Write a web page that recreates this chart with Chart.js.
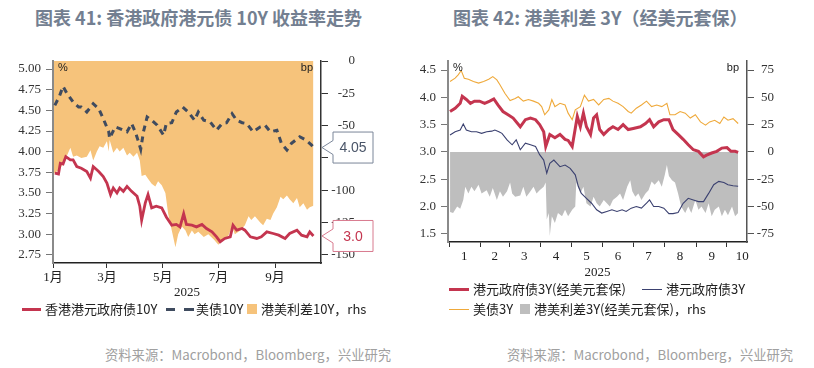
<!DOCTYPE html>
<html><head><meta charset="utf-8">
<script src="https://cdn.jsdelivr.net/npm/chart.js@4.4.0/dist/chart.umd.min.js"></script>
<style>
body{margin:0;width:814px;height:368px;background:#fff;position:relative;overflow:hidden;font-family:"Noto Sans CJK SC",sans-serif;}
.abs{position:absolute;white-space:nowrap;}
.title{font-size:18px;font-weight:bold;color:#737f91;line-height:22px;top:6px;}
.leg{font-size:13px;color:#222;line-height:18px;}
.src{font-size:13.3px;color:#a0a0a0;line-height:20px;top:345px;}
canvas{position:absolute;top:0;}
</style></head>
<body>
<div class="abs title" style="left:35px">图表 41: 香港政府港元债 10Y 收益率走势</div>
<div class="abs title" style="left:453px">图表 42: 港美利差 3Y（经美元套保）</div>
<canvas id="c1" width="410" height="300" style="left:0px"></canvas>
<canvas id="c2" width="410" height="280" style="left:404px"></canvas>

<!-- legend chart 1 -->
<div class="abs" style="left:22px;top:308px;width:19px;height:3px;background:#c4354f"></div>
<div class="abs leg" style="left:45px;top:300px">香港港元政府债10Y</div>
<div class="abs" style="left:166px;top:308px;width:9px;height:3px;background:#3f4b5f"></div>
<div class="abs" style="left:184px;top:308px;width:10px;height:3px;background:#3f4b5f"></div>
<div class="abs leg" style="left:196px;top:300px">美债10Y</div>
<div class="abs" style="left:247px;top:304px;width:10px;height:10px;background:#f6c37b"></div>
<div class="abs leg" style="left:261px;top:300px">港美利差10Y，rhs</div>

<!-- legend chart 2 -->
<div class="abs" style="left:449px;top:288px;width:20px;height:3px;background:#c4354f"></div>
<div class="abs leg" style="left:473px;top:280px">港元政府债3Y(经美元套保)</div>
<div class="abs" style="left:642px;top:289px;width:20px;height:1px;background:#3b4170"></div>
<div class="abs leg" style="left:666px;top:280px">港元政府债3Y</div>
<div class="abs" style="left:449px;top:309px;width:20px;height:1px;background:#efa93a"></div>
<div class="abs leg" style="left:473px;top:300px">美债3Y</div>
<div class="abs" style="left:520px;top:304px;width:10px;height:10px;background:#bebebe"></div>
<div class="abs leg" style="left:534px;top:300px">港美利差3Y(经美元套保)，rhs</div>

<div class="abs src" style="left:105px">资料来源：Macrobond，Bloomberg，兴业研究</div>
<div class="abs src" style="left:507px">资料来源：Macrobond，Bloomberg，兴业研究</div>

<script>
// ===== Chart 41 data (x = day of 2025, 0 = 1 Jan) =====
const hk10yDays = [2,6,8,11,14,19,22,26,31,37,41,44,50,55,59,63,66,70,73,77,81,86,92,95,97,101,104,108,113,119,124,130,135,139,143,146,152,157,163,168,174,179,183,188,194,197,201,207,210,216,223,228,234,241,247,254,259,267,272,278,281,285];
const hk10yVals = [3.74,3.73,3.86,3.85,3.94,3.90,3.90,3.82,3.80,3.76,3.68,3.82,3.76,3.70,3.62,3.48,3.56,3.50,3.56,3.52,3.58,3.52,3.46,3.34,3.17,3.38,3.48,3.32,3.34,3.32,3.21,3.11,3.12,3.09,3.25,3.12,3.11,3.09,3.12,3.07,3.03,2.97,2.91,2.95,2.97,3.11,3.05,3.07,3.05,2.97,2.95,2.97,3.03,3.01,2.99,2.95,3.01,3.05,2.99,2.97,3.03,2.98];
const us10yDays = [2,7,11,15,22,28,31,37,44,50,55,61,62,68,73,81,86,90,93,96,99,103,108,114,121,124,130,135,142,148,155,159,165,172,179,185,190,196,201,207,212,219,227,232,238,245,250,256,261,270,277,283,285];
const us10yVals = [4.56,4.67,4.79,4.71,4.60,4.54,4.54,4.48,4.58,4.52,4.40,4.24,4.16,4.30,4.28,4.24,4.34,4.24,4.14,4.03,4.24,4.42,4.38,4.32,4.20,4.34,4.35,4.48,4.54,4.48,4.38,4.48,4.38,4.36,4.26,4.34,4.35,4.46,4.38,4.35,4.34,4.24,4.30,4.32,4.24,4.26,4.10,4.02,4.10,4.18,4.14,4.08,4.05];
const spread10yDays = [1,7,13,19,22,26,31,37,41,44,48,51,55,59,61,62,66,70,73,77,81,84,88,92,95,97,101,104,108,112,115,119,123,126,130,134,137,141,145,148,152,155,159,165,170,176,181,186,192,196,199,205,210,214,217,221,227,230,234,238,241,245,249,252,256,259,263,267,270,274,278,281,285];
const spread10yVals = [-87,-84,-77,-67,-74,-73,-75,-74,-69,-77,-70,-66,-67,-62,-70,-61,-71,-67,-70,-67,-73,-71,-74,-71,-77,-89,-88,-91,-95,-97,-93,-96,-102,-118,-131,-144,-134,-128,-131,-136,-131,-134,-132,-136,-134,-138,-142,-138,-135,-128,-134,-131,-127,-120,-123,-120,-125,-127,-122,-123,-118,-113,-105,-107,-104,-107,-110,-106,-113,-110,-115,-113,-112];
const c1TickDays = [0,59,120,181,243];
const c1TickLabels = ['1月','3月','5月','7月','9月'];
const c1LeftTicks = [2.75,3.00,3.25,3.50,3.75,4.00,4.25,4.50,4.75,5.00];
const c1RightTicks = [-150,-125,-100,-75,-50,-25,0];

// ===== Chart 42 data =====
const us3yDays = [1,6,9,12,15,19,24,29,34,39,43,47,50,55,60,65,68,73,78,83,88,91,94,98,101,104,109,114,117,121,124,129,133,137,142,147,152,157,161,166,171,176,179,184,189,194,199,204,209,214,217,222,227,232,237,242,247,252,256,261,266,270,274,279,284];
const us3yVals = [4.29,4.35,4.41,4.49,4.35,4.33,4.29,4.26,4.29,4.33,4.38,4.32,4.23,4.07,3.94,3.98,4.01,3.93,3.96,3.93,3.89,3.83,3.68,3.77,3.96,3.83,3.89,3.86,3.71,3.59,3.77,3.83,4.04,3.93,3.96,3.86,3.96,3.98,3.93,3.89,3.83,3.74,3.71,3.80,3.86,3.93,3.83,3.86,3.83,3.89,3.68,3.68,3.74,3.71,3.62,3.68,3.55,3.49,3.55,3.58,3.52,3.64,3.58,3.61,3.52];
const hk3yHedgedDays = [1,6,11,13,17,21,25,30,35,40,44,48,53,58,63,70,75,80,85,89,93,95,99,104,109,114,117,121,124,126,129,132,135,139,142,145,148,152,157,161,166,171,176,181,188,193,197,201,206,211,216,220,225,230,235,240,245,250,253,258,263,268,273,277,281,284];
const hk3yHedgedVals = [3.74,3.80,3.89,4.02,3.96,3.89,3.93,3.93,3.89,3.93,3.97,3.86,3.74,3.68,3.62,3.46,3.59,3.62,3.59,3.50,3.37,3.10,3.32,3.26,3.32,3.23,3.21,3.10,3.43,3.65,3.46,3.71,3.46,3.32,3.62,3.68,3.41,3.32,3.41,3.46,3.41,3.50,3.41,3.43,3.46,3.52,3.59,3.46,3.55,3.59,3.59,3.41,3.32,3.23,3.13,3.04,3.01,2.91,2.94,2.98,3.01,3.07,3.08,3.01,3.01,2.99];
const hk3yDays = [1,6,11,14,17,22,27,32,37,42,45,49,52,57,62,66,70,75,80,85,89,93,96,99,103,106,109,114,119,124,127,130,135,140,145,150,155,160,165,170,174,179,184,189,194,197,201,206,211,216,220,225,230,235,240,245,250,255,260,265,270,274,279,284];
const hk3yVals = [3.31,3.37,3.40,3.51,3.40,3.37,3.37,3.34,3.37,3.38,3.40,3.37,3.34,3.22,3.13,3.22,3.04,3.16,3.13,3.10,2.95,2.85,2.61,2.79,2.85,2.79,2.73,2.76,2.70,2.58,2.37,2.24,2.15,2.06,1.94,1.88,1.91,1.94,1.91,1.94,1.91,1.97,2.00,1.97,2.06,2.12,2.00,2.00,1.97,1.87,1.87,1.89,2.06,2.15,2.12,2.09,2.09,2.24,2.40,2.46,2.44,2.40,2.38,2.37];
const spread3yDays = [1,4,8,11,14,16,19,22,25,29,32,37,40,43,47,50,53,57,60,62,65,70,73,76,80,83,86,89,93,95,96,98,99,101,104,107,111,114,117,121,124,125,129,132,135,139,142,145,148,152,155,158,161,165,168,171,175,178,180,183,186,189,193,196,199,202,206,209,212,214,216,219,222,225,228,232,235,238,242,245,248,252,255,258,261,265,268,271,274,278,281,284];
const spread3yVals = [-55,-56,-50,-52,-44,-32,-38,-32,-36,-30,-38,-35,-41,-33,-44,-36,-41,-36,-28,-38,-41,-40,-32,-41,-36,-32,-38,-35,-32,-28,-62,-56,-77,-59,-65,-56,-59,-53,-59,-53,-50,-28,-38,-32,-47,-50,-41,-47,-50,-44,-47,-50,-44,-41,-38,-44,-32,-26,-36,-41,-38,-44,-38,-35,-27,-30,-26,-32,-21,-12,-22,-26,-28,-38,-50,-56,-50,-56,-44,-53,-50,-56,-47,-59,-53,-50,-59,-53,-58,-50,-59,-56];
const c2MonthStarts = [0,31,59,90,120,151,181,212,243,273];
const c2MidMonths = [15,45,74,105,135,166,196,227,258,288];
const c2MidLabels = ['1','2','3','4','5','6','7','8','9','10'];
const c2LeftTicks = [1.5,2.0,2.5,3.0,3.5,4.0,4.5];
const c2RightTicks = [-75,-50,-25,0,25,50,75];

const pts = (xs, ys) => xs.map((x, i) => ({x: x, y: ys[i]}));
const serif = '"Liberation Serif","Noto Sans CJK SC",serif';

const unitPlugin = {
  id: 'units',
  afterDraw(chart) {
    const {ctx, chartArea: a} = chart;
    ctx.save();
    ctx.fillStyle = '#222';
    ctx.font = '11px "Liberation Sans",sans-serif';
    ctx.textBaseline = 'middle';
    ctx.textAlign = 'left';
    ctx.fillText('%', a.left + 5, a.top + 7);
    ctx.textAlign = 'right';
    ctx.fillText('bp', a.right - 8, a.top + 7);
    ctx.restore();
  }
};

function drawCallout(ctx, a, yPix, text, border, color) {
  const x0 = a.right + 1, bx = a.right + 12, bw = 40, bh = 31, top = yPix - bh / 2;
  ctx.save();
  ctx.beginPath();
  ctx.moveTo(bx, top); ctx.lineTo(bx + bw, top); ctx.lineTo(bx + bw, top + bh); ctx.lineTo(bx, top + bh);
  ctx.lineTo(bx, yPix + 7); ctx.lineTo(x0, yPix); ctx.lineTo(bx, yPix - 7); ctx.closePath();
  ctx.fillStyle = '#fff'; ctx.fill();
  ctx.strokeStyle = border; ctx.lineWidth = 1; ctx.stroke();
  ctx.fillStyle = color; ctx.font = '14px "Liberation Sans",sans-serif';
  ctx.textAlign = 'center'; ctx.textBaseline = 'middle';
  ctx.fillText(text, bx + bw / 2, yPix + 1);
  ctx.restore();
}

const calloutPlugin = {
  id: 'callouts',
  afterDraw(chart) {
    const y = chart.scales.y, a = chart.chartArea, ctx = chart.ctx;
    const us = us10yVals[us10yVals.length - 1];
    const hk = hk10yVals[hk10yVals.length - 1];
    drawCallout(ctx, a, y.getPixelForValue(us), us.toFixed(2), '#7a8699', '#4a5568');
    drawCallout(ctx, a, y.getPixelForValue(hk), hk.toFixed(1), '#d87a8e', '#c4354f');
  }
};

new Chart(document.getElementById('c1'), {
  type: 'line',
  data: {
    datasets: [
      {label: '香港港元政府债10Y', data: pts(hk10yDays, hk10yVals), yAxisID: 'y', borderColor: '#c4354f', borderWidth: 2.8, pointRadius: 0, tension: 0, fill: false},
      {label: '美债10Y', data: pts(us10yDays, us10yVals), yAxisID: 'y', borderColor: '#3f4b5f', borderWidth: 3, borderDash: [6, 5], pointRadius: 0, tension: 0, fill: false},
      {label: '港美利差10Y，rhs', data: pts(spread10yDays, spread10yVals), yAxisID: 'y2', borderColor: 'transparent', borderWidth: 0.01, backgroundColor: '#f6c37b', pointRadius: 0, tension: 0, fill: 'origin'}
    ]
  },
  options: {
    responsive: false, animation: false, events: [],
    layout: {padding: {top: 61, left: 0, right: 55, bottom: 0}},
    plugins: {legend: {display: false}, tooltip: {enabled: false}},
    scales: {
      x: {
        type: 'linear', position: 'bottom', min: 0, max: 293.3,
        afterBuildTicks: s => { s.ticks = c1TickDays.map(v => ({value: v})); },
        afterFit: s => { s.height = 37; },
        ticks: {autoSkip: false, maxRotation: 0, padding: 2, color: '#222', font: {family: serif, size: 13},
          callback: v => { const i = c1TickDays.indexOf(v); return i >= 0 ? c1TickLabels[i] : ''; }},
        grid: {drawOnChartArea: false, drawTicks: true, tickLength: 5, tickColor: '#333'},
        border: {color: '#222', width: 1.5},
        title: {display: true, text: '2025', color: '#222', font: {family: serif, size: 13}, padding: {top: 0, bottom: 0}}
      },
      y: {
        type: 'linear', position: 'left', min: 2.653, max: 5.097,
        afterBuildTicks: s => { s.ticks = c1LeftTicks.map(v => ({value: v})); },
        afterFit: s => { s.width = 53; },
        ticks: {padding: 5, color: '#333', font: {family: serif, size: 13}, callback: v => v.toFixed(2)},
        grid: {drawOnChartArea: false, drawTicks: true, tickLength: 7, tickColor: '#777'},
        border: {color: '#8a8a8a', width: 2}
      },
      y2: {
        type: 'linear', position: 'right', min: -156.2, max: 0,
        afterBuildTicks: s => { s.ticks = c1RightTicks.map(v => ({value: v})); },
        afterFit: s => { s.width = 34; },
        ticks: {padding: 5, crossAlign: 'far', color: '#333', font: {family: serif, size: 13}, callback: v => String(v)},
        grid: {drawOnChartArea: false, drawTicks: true, tickLength: 7, tickColor: '#333'},
        border: {color: '#333', width: 1.5}
      }
    }
  },
  plugins: [unitPlugin, calloutPlugin]
});

const c2AllTicks = c2MonthStarts.concat(c2MidMonths).sort((a, b) => a - b);

new Chart(document.getElementById('c2'), {
  type: 'line',
  data: {
    datasets: [
      {label: '港元政府债3Y(经美元套保)', data: pts(hk3yHedgedDays, hk3yHedgedVals), yAxisID: 'y', borderColor: '#c4354f', borderWidth: 3, pointRadius: 0, tension: 0, fill: false},
      {label: '港元政府债3Y', data: pts(hk3yDays, hk3yVals), yAxisID: 'y', borderColor: '#3b4170', borderWidth: 1.1, pointRadius: 0, tension: 0, fill: false},
      {label: '美债3Y', data: pts(us3yDays, us3yVals), yAxisID: 'y', borderColor: '#efa93a', borderWidth: 1.1, pointRadius: 0, tension: 0, fill: false},
      {label: '港美利差3Y(经美元套保)，rhs', data: pts(spread3yDays, spread3yVals), yAxisID: 'y2', borderColor: 'transparent', borderWidth: 0.01, backgroundColor: '#bebebe', pointRadius: 0, tension: 0, fill: 'origin'}
    ]
  },
  options: {
    responsive: false, animation: false, events: [],
    layout: {padding: {top: 61, left: 0, right: 40, bottom: 0}},
    plugins: {legend: {display: false}, tooltip: {enabled: false}},
    scales: {
      x: {
        type: 'linear', position: 'bottom', min: -1, max: 292.7,
        afterBuildTicks: s => { s.ticks = c2AllTicks.map(v => ({value: v})); },
        afterFit: s => { s.height = 38; },
        ticks: {autoSkip: false, maxRotation: 0, padding: 1.5, color: '#222', font: {family: serif, size: 13},
          callback: v => { const i = c2MidMonths.indexOf(v); return i >= 0 ? c2MidLabels[i] : ''; }},
        grid: {drawOnChartArea: false, drawTicks: true, tickLength: 5,
          tickColor: c => (c.tick && c2MidMonths.indexOf(c.tick.value) >= 0) ? 'rgba(0,0,0,0)' : '#333'},
        border: {color: '#222', width: 1.5},
        title: {display: true, text: '2025', color: '#222', font: {family: serif, size: 13}, padding: {top: 0, bottom: 0}}
      },
      y: {
        type: 'linear', position: 'left', min: 1.35, max: 4.665,
        afterBuildTicks: s => { s.ticks = c2LeftTicks.map(v => ({value: v})); },
        afterFit: s => { s.width = 44; },
        ticks: {padding: 5, color: '#333', font: {family: serif, size: 13}, callback: v => v.toFixed(1)},
        grid: {drawOnChartArea: false, drawTicks: true, tickLength: 7, tickColor: '#777'},
        border: {color: '#8a8a8a', width: 2}
      },
      y2: {
        type: 'linear', position: 'right', min: -82.5, max: 83.25,
        afterBuildTicks: s => { s.ticks = c2RightTicks.map(v => ({value: v})); },
        afterFit: s => { s.width = 27; },
        ticks: {padding: 5, crossAlign: 'far', color: '#333', font: {family: serif, size: 13}, callback: v => String(v)},
        grid: {drawOnChartArea: false, drawTicks: true, tickLength: 7, tickColor: '#555'},
        border: {color: '#555', width: 1.5}
      }
    }
  },
  plugins: [unitPlugin]
});
</script>
</body></html>
